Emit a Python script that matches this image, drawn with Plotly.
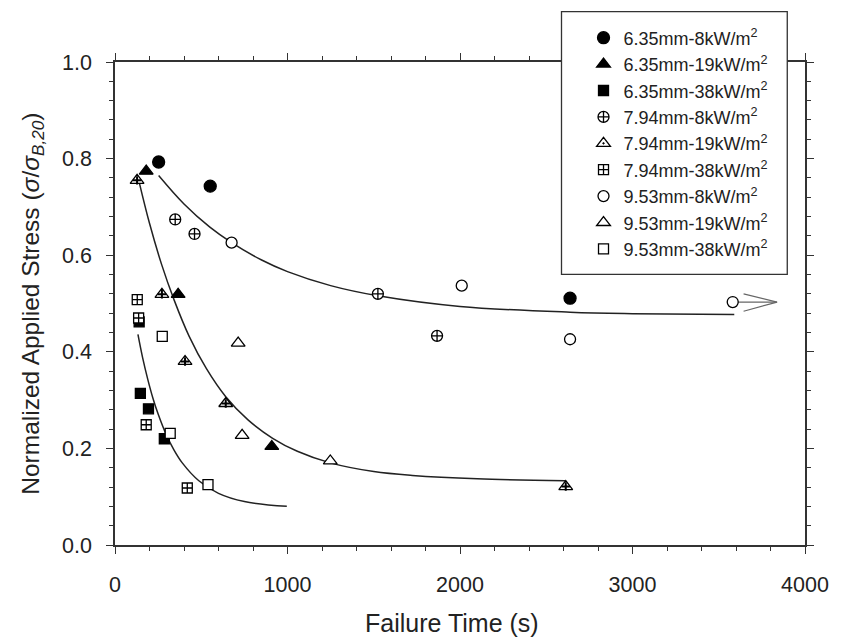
import plotly.graph_objects as go

# ---- data ----
s635_8_x = [253, 552, 2638]
s635_8_y = [0.793, 0.743, 0.511]
s635_19_x = [181, 366, 909]
s635_19_y = [0.774, 0.519, 0.204]
s635_38_x = [140, 147, 194, 286]
s635_38_y = [0.462, 0.314, 0.282, 0.220]
s794_8_x = [349, 461, 1524, 1867]
s794_8_y = [0.674, 0.644, 0.520, 0.433]
s794_19_x = [128, 272, 406, 642, 2613]
s794_19_y = [0.755, 0.519, 0.380, 0.293, 0.121]
s794_38_x = [129, 137, 181, 419]
s794_38_y = [0.508, 0.470, 0.249, 0.118]
s953_8_x = [676, 2010, 2638, 3581]
s953_8_y = [0.626, 0.537, 0.426, 0.503]
s953_19_x = [714, 737, 1248]
s953_19_y = [0.418, 0.227, 0.174]
s953_38_x = [274, 320, 539]
s953_38_y = [0.432, 0.231, 0.125]

# trend curves
curve_8_x = [253, 400, 550, 676, 850, 1000, 1250, 1524, 2000, 2638, 3000, 3590]
curve_8_y = [0.765, 0.706, 0.658, 0.626, 0.590, 0.566, 0.537, 0.516, 0.494, 0.482, 0.479, 0.477]
curve_19_x = [139, 200, 270, 343, 430, 530, 642, 771, 914, 1057, 1248, 1500, 1724, 2100, 2610]
curve_19_y = [0.753, 0.666, 0.581, 0.507, 0.432, 0.365, 0.307, 0.259, 0.221, 0.194, 0.170, 0.152, 0.144, 0.137, 0.133]
curve_38_x = [133, 160, 190, 219, 250, 295, 340, 390, 486, 600, 750, 996]
curve_38_y = [0.436, 0.388, 0.343, 0.305, 0.271, 0.230, 0.198, 0.170, 0.133, 0.107, 0.090, 0.080]

# run-out arrow on the longest test
runout_line_x = [3600, 3838]
runout_line_y = [0.503, 0.503]
runout_head_x = [3644, 3838, 3644]
runout_head_y = [0.520, 0.503, 0.484]

x_ticks = [0, 1000, 2000, 3000, 4000]
y_ticks = [0.0, 0.2, 0.4, 0.6, 0.8, 1.0]

FONT = "Liberation Sans, Arial, sans-serif"
fig = go.Figure()

for cx, cy in [(curve_8_x, curve_8_y), (curve_19_x, curve_19_y), (curve_38_x, curve_38_y)]:
    fig.add_trace(go.Scatter(x=cx, y=cy, mode="lines", line=dict(color="#222222", width=1.5, shape="spline"),
                             showlegend=False, hoverinfo="skip"))

fig.add_trace(go.Scatter(x=runout_line_x, y=runout_line_y, mode="lines", line=dict(color="#666666", width=1.2),
                         showlegend=False, hoverinfo="skip"))
fig.add_trace(go.Scatter(x=runout_head_x, y=runout_head_y, mode="lines", line=dict(color="#666666", width=1.2),
                         showlegend=False, hoverinfo="skip"))

series = [
    ("6.35mm-8kW/m<sup>2</sup>", s635_8_x, s635_8_y, "circle", "black", 12),
    ("6.35mm-19kW/m<sup>2</sup>", s635_19_x, s635_19_y, "triangle-up", "black", 12),
    ("6.35mm-38kW/m<sup>2</sup>", s635_38_x, s635_38_y, "square", "black", 10),
    ("7.94mm-8kW/m<sup>2</sup>", s794_8_x, s794_8_y, "circle-cross", "white", 11),
    ("7.94mm-19kW/m<sup>2</sup>", s794_19_x, s794_19_y, "triangle-up-dot", "white", 12),
    ("7.94mm-38kW/m<sup>2</sup>", s794_38_x, s794_38_y, "square-cross", "white", 10),
    ("9.53mm-8kW/m<sup>2</sup>", s953_8_x, s953_8_y, "circle", "white", 11),
    ("9.53mm-19kW/m<sup>2</sup>", s953_19_x, s953_19_y, "triangle-up", "white", 12),
    ("9.53mm-38kW/m<sup>2</sup>", s953_38_x, s953_38_y, "square", "white", 10),
]
for name, xs, ys, sym, fill, size in series:
    fig.add_trace(go.Scatter(x=xs, y=ys, mode="markers", name=name,
                             marker=dict(symbol=sym, color=fill, size=size,
                                         line=dict(color="black", width=1.3))))
    if sym == "triangle-up-dot":
        # small dark cross inside the triangle
        fig.add_trace(go.Scatter(x=xs, y=ys, mode="markers", showlegend=False,
                                 hoverinfo="skip",
                                 marker=dict(symbol="cross-thin", size=6, color="black",
                                             line=dict(color="black", width=2))))

axis_common = dict(showline=True, linecolor="#333333", linewidth=1.5, mirror="allticks",
                   ticks="outside", ticklen=7, tickwidth=1.2, tickcolor="#333333",
                   showgrid=False, zeroline=False,
                   tickfont=dict(family=FONT, size=21.5, color="#222222"))

fig.update_xaxes(range=[0, 4000], tickvals=x_ticks, ticktext=[str(v) for v in x_ticks],
                 minor=dict(dtick=200, ticks="outside", ticklen=4, tickcolor="#333333", tickwidth=1),
                 ticklabelstandoff=12, **axis_common)
fig.update_yaxes(range=[0, 1.0], tickvals=y_ticks, ticktext=[f"{v:.1f}" for v in y_ticks],
                 minor=dict(dtick=0.04, ticks="outside", ticklen=4, tickcolor="#333333", tickwidth=1),
                 ticklabelstandoff=10, **axis_common)

fig.add_annotation(text="Failure Time (s)", xref="paper", yref="paper", x=0.4886, y=-0.1616,
                   xanchor="center", yanchor="middle", showarrow=False,
                   font=dict(family=FONT, size=25, color="#222222"))
fig.add_annotation(text="Normalized Applied Stress (<i>σ</i>/<i>σ<sub>B,20</sub></i>)",
                   xref="paper", yref="paper", x=-0.12, y=0.5, textangle=-90,
                   xanchor="center", yanchor="middle", showarrow=False,
                   font=dict(family=FONT, size=24.5, color="#222222"))

# legend frame
fig.add_shape(type="rect", xref="paper", yref="paper", x0=0.6471, x1=0.9743, y0=0.5603, y1=1.1043,
              line=dict(color="#333333", width=1.3), fillcolor="white", layer="above")

# page body has an 8px margin, so the figure is sized to the visible area
fig.update_layout(
    width=833, height=633,
    margin=dict(l=107, r=26, t=48, b=96),
    paper_bgcolor="white", plot_bgcolor="white",
    font=dict(family=FONT, color="#222222"),
    legend=dict(x=0.679, y=1.088, xanchor="left", yanchor="top", bgcolor="rgba(0,0,0,0)",
                borderwidth=0, font=dict(family=FONT, size=18, color="#222222"),
                itemsizing="trace", tracegroupgap=0),
)

fig.write_html("out.html")
